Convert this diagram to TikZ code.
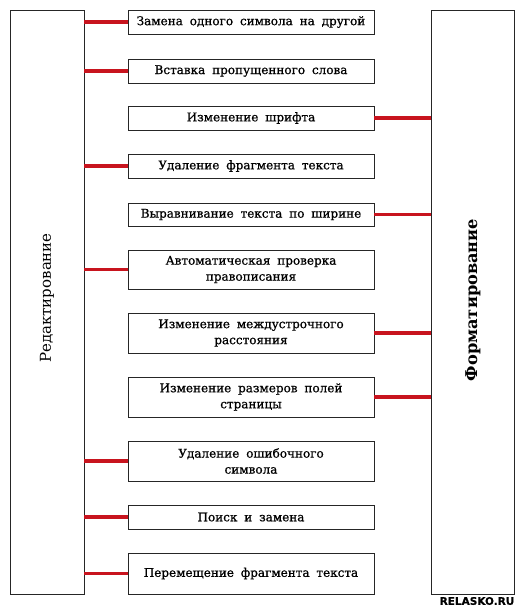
\documentclass[tikz,border=0pt]{standalone}
\usepackage{fontspec}
\setmainfont{DejaVu Serif}
\newfontfamily\boxfont{DejaVu Serif}[FakeBold=0.8, WordSpace=1.8]
\newfontfamily\wmfont{DejaVu Sans}[FakeBold=0.5]
\definecolor{linkred}{RGB}{200,20,30}
\begin{document}
\begin{tikzpicture}[x=1pt,y=-1pt,
  box/.style={draw=black!85, line width=0.8pt, fill=white, minimum width=246, inner sep=0pt, align=center, font=\boxfont\fontsize{12}{16}\selectfont},
  side/.style={draw=black!85, line width=0.8pt, minimum height=584, inner sep=0pt},
  link/.style={draw=linkred, line width=3.5pt}]
\useasboundingbox (0,0) rectangle (527,610);
\node[side, minimum width=74] (L) at (47,302) {};
\node[side, minimum width=83] (R) at (472.5,302) {};
\node[rotate=90, font=\fontsize{15}{16}\selectfont] (Lt) at (47,298) {Редактирование};
\node[rotate=90, font=\fontsize{16.2}{16}\selectfont\bfseries] (Rt) at (473,300) {Форматирование};
\node[box, minimum height=24] (b1) at (251,22) {Замена одного символа на другой};
\node[box, minimum height=24] (b2) at (251,71) {Вставка пропущенного слова};
\node[box, minimum height=24] (b3) at (251,118) {Изменение шрифта};
\node[box, minimum height=24] (b4) at (251,166) {Удаление фрагмента текста};
\node[box, minimum height=23] (b5) at (251,214.5) {Выравнивание текста по ширине};
\node[box, minimum height=39] (b6) at (251,269.5) {Автоматическая проверка\\правописания};
\node[box, minimum height=40] (b7) at (251,333) {Изменение междустрочного\\расстояния};
\node[box, minimum height=40] (b8) at (251,397) {Изменение размеров полей\\страницы};
\node[box, minimum height=40] (b9) at (251,461) {Удаление ошибочного\\символа};
\node[box, minimum height=24] (b10) at (251,517) {Поиск и замена};
\node[box, minimum height=41] (b11) at (251,573.5) {Перемещение фрагмента текста};
\foreach \b in {b1,b2,b4,b6,b9,b10,b11}
  \draw[link] (\b.west) -- (L.east |- \b.west);
\foreach \b in {b3,b5,b7,b8}
  \draw[link] (\b.east) -- (R.west |- \b.east);
\node[font=\wmfont\bfseries\fontsize{10.5}{10}\selectfont, inner sep=0pt] (wm) at (477,601) {RELASKO.RU};
\end{tikzpicture}
\end{document}
